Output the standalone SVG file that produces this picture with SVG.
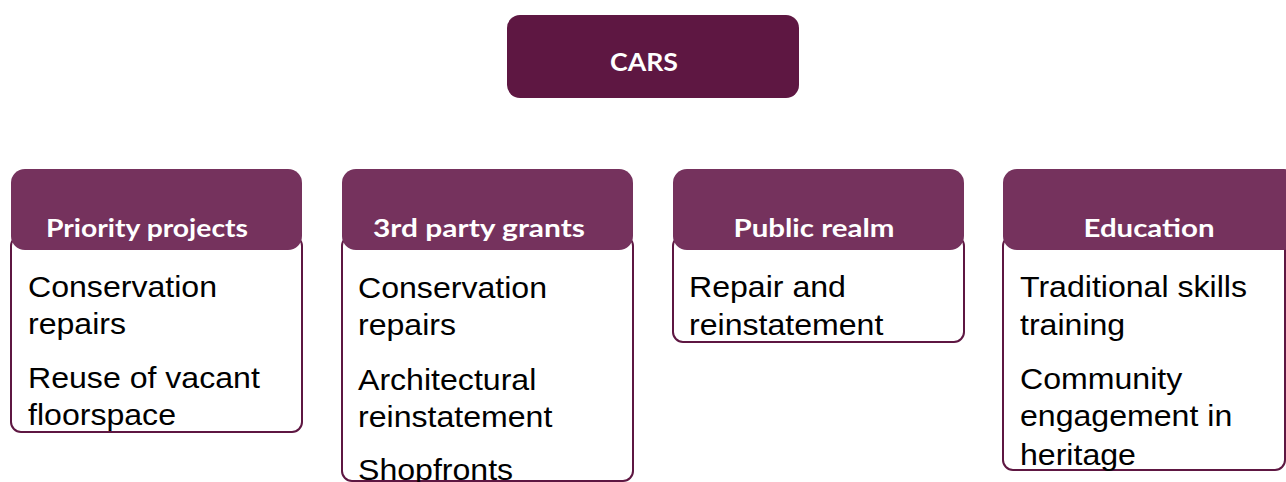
<svg xmlns="http://www.w3.org/2000/svg" width="1286" height="482" viewBox="0 0 1286 482">
<style>
.root{fill:#5e1742}
.hdr{fill:#75325d}
.body{fill:#fff;stroke:#5e1742;stroke-width:2}
.ht{font-family:Lato,"Open Sans",sans-serif;font-weight:bold;font-size:25px;fill:#fff;text-anchor:middle}
.bt{font-family:"Liberation Sans",Arial,sans-serif;font-size:30px;fill:#000}
</style>
<rect width="1286" height="482" fill="#fff"/>
<g id="cars">
<rect class="root" x="507" y="15" width="292" height="83" rx="13"/>
<text class="ht" x="644" y="71" textLength="68" lengthAdjust="spacingAndGlyphs">CARS</text>
</g>
<g id="connectors"></g>
<g id="priority">
<rect class="body" x="11" y="236" width="291" height="196" rx="10"/>
<rect class="hdr" x="11" y="169" width="291" height="81" rx="14"/>
<text class="ht" x="147" y="237" textLength="202" lengthAdjust="spacingAndGlyphs">Priority projects</text>
<g transform="matrix(1.07 0 0 1 28 0)">
<text class="bt" x="0" y="297">Conservation</text>
<text class="bt" x="0" y="334">repairs</text>
<text class="bt" x="0" y="388">Reuse of vacant</text>
<text class="bt" x="0" y="425">floorspace</text>
</g>
</g>
<g id="grants">
<rect class="body" x="342" y="236" width="291" height="245" rx="10"/>
<rect class="hdr" x="342" y="169" width="291" height="81" rx="14"/>
<text class="ht" x="479" y="237" textLength="212" lengthAdjust="spacingAndGlyphs">3rd party grants</text>
<g transform="matrix(1.07 0 0 1 358 0)">
<text class="bt" x="0" y="298">Conservation</text>
<text class="bt" x="0" y="335">repairs</text>
<text class="bt" x="0" y="390">Architectural</text>
<text class="bt" x="0" y="427">reinstatement</text>
<text class="bt" x="0" y="480">Shopfronts</text>
</g>
</g>
<g id="public">
<rect class="body" x="673" y="236" width="291" height="106" rx="10"/>
<rect class="hdr" x="673" y="169" width="291" height="81" rx="14"/>
<text class="ht" x="814" y="237" textLength="161" lengthAdjust="spacingAndGlyphs">Public realm</text>
<g transform="matrix(1.07 0 0 1 689 0)">
<text class="bt" x="0" y="297">Repair and</text>
<text class="bt" x="0" y="335">reinstatement</text>
</g>
</g>
<g id="education">
<rect class="body" x="1003" y="236" width="282" height="234" rx="10"/>
<rect class="hdr" x="1003" y="169" width="295" height="81" rx="14"/>
<text class="ht" x="1149" y="237" textLength="131" lengthAdjust="spacingAndGlyphs">Education</text>
<g transform="matrix(1.07 0 0 1 1020 0)">
<text class="bt" x="0" y="297">Traditional skills</text>
<text class="bt" x="0" y="335">training</text>
<text class="bt" x="0" y="389">Community</text>
<text class="bt" x="0" y="426">engagement in</text>
<text class="bt" x="0" y="465">heritage</text>
</g>
</g>
</svg>
